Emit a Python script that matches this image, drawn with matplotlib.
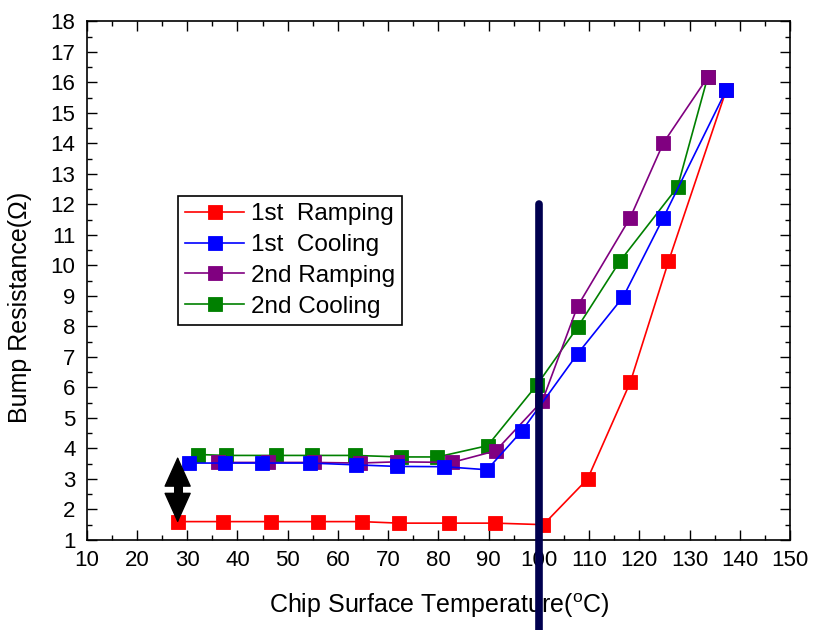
import matplotlib
matplotlib.use("Agg")
import matplotlib.pyplot as plt
from matplotlib.ticker import MultipleLocator

plt.rcParams['font.family'] = ['Liberation Sans', 'DejaVu Sans']

# Data
temp_r1 = [28.1, 37.2, 46.6, 56.1, 64.7, 72.1, 82.2, 91.3, 100.9, 109.7, 118.2, 125.8, 137.3]
res_r1 = [1.6, 1.6, 1.6, 1.6, 1.6, 1.55, 1.55, 1.55, 1.5, 3.0, 6.17, 10.13, 15.75]

temp_c1 = [30.3, 37.6, 44.9, 54.5, 63.7, 71.7, 81.2, 89.7, 96.6, 107.7, 116.8, 124.8, 137.3]
res_c1 = [3.52, 3.52, 3.52, 3.52, 3.46, 3.41, 3.4, 3.3, 4.57, 7.1, 8.97, 11.57, 15.75]

temp_r2 = [36.2, 46.0, 55.3, 64.3, 71.7, 82.7, 91.4, 100.7, 107.7, 118.2, 124.8, 133.6]
res_r2 = [3.54, 3.54, 3.54, 3.52, 3.56, 3.54, 3.92, 5.56, 8.66, 11.57, 14.02, 16.17]

temp_c2 = [32.2, 37.7, 47.7, 54.9, 63.4, 72.6, 79.8, 89.8, 99.6, 107.7, 116.1, 127.6, 133.6]
res_c2 = [3.8, 3.77, 3.77, 3.77, 3.77, 3.72, 3.72, 4.09, 6.08, 7.97, 10.13, 12.57, 16.17]

labels = ['1st  Ramping', '1st  Cooling', '2nd Ramping', '2nd Cooling']
colors = ['#ff0000', '#0000ff', '#800080', '#008000']

fig = plt.figure(figsize=(8.15, 6.3), dpi=100)
ax = fig.add_axes([0.1064, 0.143, 0.863, 0.823])

series = [(temp_r1, res_r1), (temp_c1, res_c1), (temp_r2, res_r2), (temp_c2, res_c2)]
zorders = [2, 5, 4, 3]
handles = []
for (t, r), label, color, z in zip(series, labels, colors, zorders):
    h, = ax.plot(t, r, '-s', color=color, lw=1.2, markersize=10,
                 markeredgecolor=color, markeredgewidth=0.6, label=label, zorder=z)
    handles.append(h)

# transition line at 100 C, runs on below the axis
ax.plot([100, 100], [12.0, -2.0], color='#00004f', lw=5.5,
        solid_capstyle='round', clip_on=False, zorder=6)

# double arrow showing the resistance jump: shaft + two heads
ax.plot([28.1, 28.1], [2.2, 3.1], color='black', lw=6.5, solid_capstyle='butt', zorder=7)
ax.annotate('', xy=(28.1, 1.56), xytext=(28.1, 3.73),
            arrowprops=dict(arrowstyle='<|-|>,head_length=1.0,head_width=0.45',
                            lw=1, color='black', mutation_scale=20,
                            shrinkA=0, shrinkB=0), zorder=7)

ax.set_xlim(10, 150)
ax.set_ylim(1, 18)
ax.xaxis.set_major_locator(MultipleLocator(10))
ax.xaxis.set_minor_locator(MultipleLocator(5))
ax.yaxis.set_major_locator(MultipleLocator(1))
ax.yaxis.set_minor_locator(MultipleLocator(0.5))
ax.tick_params(which='both', direction='in', top=True, right=True,
               labelsize=16, width=1)
ax.tick_params(which='major', length=7)
ax.tick_params(which='minor', length=3.6)
ax.tick_params(axis='x', pad=7)
ax.tick_params(axis='y', pad=8)
for s in ax.spines.values():
    s.set_linewidth(1.2)

ax.set_xlabel('Chip Surface Temperature($\\mathregular{^oC}$)', fontsize=18)
ax.set_ylabel('Bump Resistance(\u03a9)', fontsize=18)
ax.xaxis.set_label_coords(0.501, -0.1)
ax.yaxis.set_label_coords(-0.078, 0.448)

leg = ax.legend(handles=handles, loc='upper left', bbox_to_anchor=(0.13, 0.663),
                fontsize=17.5, numpoints=1, handlelength=2.4, handletextpad=0.3,
                labelspacing=0.36, borderpad=0.3, borderaxespad=0, fancybox=False,
                framealpha=1, edgecolor='black')
leg.get_frame().set_linewidth(1.2)

plt.savefig('out.png', dpi=100)
